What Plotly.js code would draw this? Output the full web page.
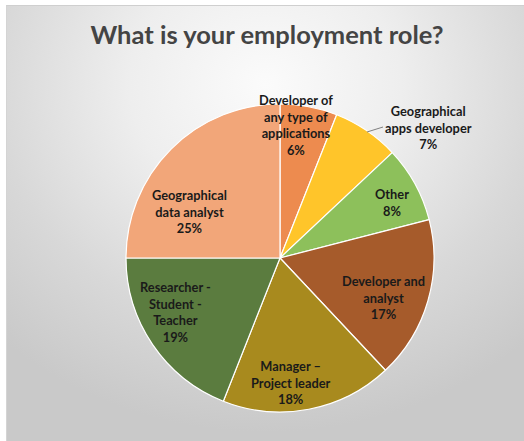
<!DOCTYPE html>
<html>
<head>
<meta charset="utf-8">
<script src="https://cdn.plot.ly/plotly-3.0.1.min.js"></script>
<style>
  html, body { margin:0; padding:0; background:#ffffff; width:524px; height:441px; overflow:hidden; }
  #bg { position:absolute; left:6px; top:5px; width:518px; height:436px;
        background: radial-gradient(ellipse 75% 80% at 50% 18%, #fbfbfb 0%, #eeeeee 35%, #d8d8d8 70%, #c9c9c9 100%);
        border-top:1px solid #cfcfcf; border-left:1px solid #d4d4d4; box-sizing:border-box; }
  #chart { position:absolute; left:0; top:0; width:524px; height:441px; }
</style>
</head>
<body>
<div id="bg"></div>
<div id="chart"></div>
<script>
// Data
const categories = [
  "Developer of any type of applications",
  "Geographical apps developer",
  "Other",
  "Developer and analyst",
  "Manager – Project leader",
  "Researcher - Student - Teacher",
  "Geographical data analyst"
];
const labelLines = [
  "Developer of<br>any type of<br>applications",
  "Geographical<br>apps developer",
  "Other",
  "Developer and<br>analyst",
  "Manager –<br>Project leader",
  "Researcher -<br>Student -<br>Teacher",
  "Geographical<br>data analyst"
];
const percents = [6, 7, 8, 17, 18, 19, 25];
const colors = ["#ED8B4F", "#FFC52A", "#8DC05B", "#A65B2B", "#A88A1E", "#5B7C3F", "#F2A679"];

// Label placement (pixels in the 524x441 frame)
const labelPos = [[296,125],[428,127],[392,203],[383,297],[290,382],[175,312],[189,211]];

const W = 524, H = 441;
const cx = 280, cy = 258, r = 154;

const annotations = categories.map((c, i) => ({
  text: labelLines[i] + "<br>" + percents[i] + "%",
  x: labelPos[i][0] / W, y: 1 - labelPos[i][1] / H,
  xref: "paper", yref: "paper",
  xanchor: "center", yanchor: "middle",
  showarrow: false, align: "center",
  font: { family: "Lato, 'Open Sans', sans-serif", size: 12.8, color: "#1a1a1a", weight: "bold" }
}));

const data = [{
  type: "pie",
  labels: categories,
  values: percents,
  sort: false,
  direction: "clockwise",
  rotation: 0,
  textinfo: "none",
  hoverinfo: "label+percent",
  marker: { colors: colors, line: { color: "#ffffff", width: 1.2 } },
  domain: { x: [(cx - r) / W, (cx + r) / W], y: [1 - (cy + r) / H, 1 - (cy - r) / H] },
  showlegend: false
}];

const layout = {
  width: W, height: H,
  margin: { l: 0, r: 0, t: 0, b: 0 },
  paper_bgcolor: "rgba(0,0,0,0)",
  plot_bgcolor: "rgba(0,0,0,0)",
  showlegend: false,
  title: {
    text: "<b>What is your employment role?</b>",
    x: 267 / W, xanchor: "center", xref: "paper",
    y: 1 - 35 / H, yanchor: "middle", yref: "container",
    font: { family: "Lato, 'Open Sans', sans-serif", size: 25.5, color: "#444444" }
  },
  annotations: annotations,
  shapes: [{
    type: "line", xref: "paper", yref: "paper",
    x0: 367 / W, y0: 1 - 132 / H, x1: 383 / W, y1: 1 - 127 / H,
    line: { color: "#808080", width: 1 }
  }]
};

Plotly.newPlot("chart", data, layout, { displayModeBar: false, staticPlot: true });
</script>
</body>
</html>
